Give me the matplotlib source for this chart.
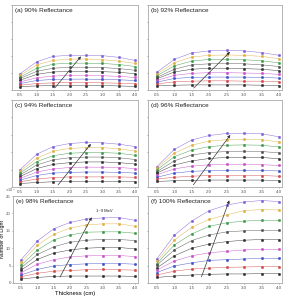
import numpy as np
import matplotlib
matplotlib.use('Agg')
import matplotlib.pyplot as plt

plt.rcParams['font.family'] = ['Liberation Sans', 'DejaVu Sans']

thickness = [0.5, 1.0, 1.5, 2.0, 2.5, 3.0, 3.5, 4.0]
titles = ["(a) 90% Reflectance", "(b) 92% Reflectance", "(c) 94% Reflectance",
          "(d) 96% Reflectance", "(e) 98% Reflectance", "(f) 100% Reflectance"]
# curves from 9 MeV (top) down to 1 MeV (bottom), values in 10^3
r90 = [[4.8, 8.3, 9.9, 10.2, 10.2, 10.1, 9.6, 8.7],
       [4.3, 7.4, 8.7, 9.1, 9.1, 8.9, 8.5, 7.8],
       [3.8, 6.4, 7.6, 7.9, 7.9, 7.8, 7.5, 6.9],
       [3.4, 5.5, 6.4, 6.7, 6.7, 6.6, 6.3, 5.8],
       [2.9, 4.6, 5.3, 5.5, 5.5, 5.4, 5.2, 4.8],
       [2.4, 3.6, 4.1, 4.3, 4.3, 4.2, 4.0, 3.7],
       [1.9, 2.8, 3.1, 3.2, 3.2, 3.1, 3.0, 2.8],
       [1.4, 1.9, 2.1, 2.2, 2.2, 2.1, 2.0, 1.9],
       [1.0, 1.2, 1.3, 1.3, 1.3, 1.3, 1.2, 1.05]]
r92 = [[5.2, 9.0, 10.9, 11.5, 11.7, 11.5, 11.0, 10.2],
       [4.7, 8.0, 9.7, 10.2, 10.3, 10.2, 9.9, 9.2],
       [4.2, 7.1, 8.5, 9.0, 9.0, 8.9, 8.6, 8.0],
       [3.7, 6.1, 7.4, 7.7, 7.8, 7.7, 7.4, 6.9],
       [3.3, 5.3, 6.1, 6.4, 6.4, 6.3, 6.1, 5.7],
       [2.8, 4.3, 4.9, 5.1, 5.1, 5.0, 4.9, 4.6],
       [2.3, 3.4, 3.7, 3.8, 3.8, 3.8, 3.7, 3.5],
       [1.8, 2.4, 2.6, 2.7, 2.7, 2.6, 2.6, 2.4],
       [1.2, 1.4, 1.5, 1.5, 1.5, 1.5, 1.4, 1.3]]
r94 = [[5.0, 9.4, 11.6, 12.5, 12.8, 12.7, 12.3, 11.6],
       [4.5, 8.3, 10.3, 11.1, 11.3, 11.3, 11.0, 10.3],
       [4.0, 7.3, 9.0, 9.7, 9.9, 9.9, 9.7, 9.1],
       [3.5, 6.3, 7.8, 8.4, 8.6, 8.6, 8.4, 7.9],
       [3.0, 5.3, 6.5, 7.0, 7.2, 7.2, 7.0, 6.6],
       [2.5, 4.3, 5.2, 5.6, 5.7, 5.7, 5.6, 5.3],
       [2.0, 3.3, 4.0, 4.2, 4.3, 4.3, 4.2, 4.0],
       [1.5, 2.3, 2.7, 2.9, 2.9, 2.9, 2.9, 2.8],
       [1.0, 1.3, 1.5, 1.6, 1.6, 1.6, 1.6, 1.5]]
r96 = [[5.8, 10.8, 13.5, 14.8, 15.4, 15.4, 15.3, 14.4],
       [5.4, 9.7, 12.0, 13.2, 13.6, 13.7, 13.6, 12.9],
       [4.9, 8.7, 10.6, 11.6, 12.0, 12.1, 12.0, 11.5],
       [4.4, 7.5, 9.2, 9.9, 10.2, 10.3, 10.2, 9.8],
       [4.0, 6.3, 7.5, 8.2, 8.5, 8.5, 8.5, 8.1],
       [3.5, 5.2, 6.0, 6.4, 6.5, 6.5, 6.4, 6.2],
       [2.8, 4.0, 4.5, 4.7, 4.8, 4.8, 4.8, 4.6],
       [2.3, 2.8, 3.1, 3.3, 3.3, 3.3, 3.3, 3.1],
       [1.6, 1.8, 1.9, 2.0, 2.0, 2.0, 2.0, 1.8]]
r98 = [[6.7, 12.1, 15.6, 17.4, 18.4, 18.7, 18.8, 18.0],
       [5.9, 10.9, 14.0, 15.8, 16.7, 17.0, 17.0, 16.3],
       [5.1, 9.5, 12.4, 13.8, 14.6, 14.7, 14.7, 14.3],
       [4.4, 8.2, 10.4, 11.7, 12.3, 12.5, 12.5, 12.2],
       [3.7, 6.8, 8.6, 9.5, 10.0, 10.2, 10.2, 9.8],
       [3.0, 5.4, 6.7, 7.5, 7.8, 7.9, 7.9, 7.6],
       [2.3, 3.9, 4.9, 5.3, 5.5, 5.6, 5.6, 5.4],
       [1.8, 2.8, 3.4, 3.6, 3.8, 3.9, 3.8, 3.7],
       [1.2, 1.6, 1.9, 2.0, 2.0, 2.0, 2.0, 1.9]]
r100 = [[6.9, 13.7, 17.8, 20.8, 22.4, 23.3, 23.7, 23.4],
        [6.2, 12.3, 16.0, 18.3, 19.6, 20.8, 21.1, 21.0],
        [5.6, 10.9, 14.1, 16.3, 17.3, 17.8, 18.0, 18.0],
        [5.1, 9.5, 12.2, 13.8, 14.7, 15.0, 15.1, 15.1],
        [4.3, 7.8, 10.0, 11.2, 11.9, 12.3, 12.5, 12.5],
        [3.7, 6.3, 7.8, 8.7, 9.1, 9.5, 9.7, 9.7],
        [3.0, 4.9, 5.8, 6.5, 6.7, 6.9, 7.1, 7.1],
        [2.3, 3.4, 4.0, 4.3, 4.5, 4.6, 4.7, 4.7],
        [1.6, 2.0, 2.3, 2.5, 2.6, 2.6, 2.7, 2.7]]
panels = [r90, r92, r94, r96, r98, r100]
# arrow start / end (thickness, value) per panel
arrow_from = [(1.5, 0.0), (1.5, 0.0), (1.6, 0.0), (1.5, 0.0), (1.65, 1.0), (1.75, 1.0)]
arrow_to = [(2.4, 10.5), (2.65, 11.8), (2.7, 13.0), (2.65, 15.6), (2.7, 19.6), (2.6, 24.5)]

colors = ['#8060d8', '#e0b040', '#3c9a48', '#505050', '#303030',
          '#c850c8', '#4050c8', '#d04848', '#303030']

fig = plt.figure(figsize=(2.84, 2.96), dpi=100)
W, H = 284.0, 296.0
boxes = [(12, 5, 138, 90), (148, 5, 282, 90),
         (12, 100, 138, 187), (148, 100, 282, 187),
         (13, 196, 138, 283), (148, 196, 282, 283)]

for i in range(6):
    l, t, r, b = boxes[i]
    ax = fig.add_axes([l / W, 1 - b / H, (r - l) / W, (b - t) / H])
    for k, vals in enumerate(panels[i]):
        ax.plot(thickness, vals, color=colors[k], lw=0.35, marker='s', ms=1.0,
                mec=colors[k], mfc=colors[k], alpha=0.9)
    ax.annotate('', xy=arrow_to[i], xytext=arrow_from[i],
                arrowprops=dict(arrowstyle='-|>', color='#333333', lw=0.5,
                                mutation_scale=4))
    ax.set_xlim(0.25, 4.08)
    ax.set_ylim(0, 25)
    ax.set_xticks(thickness)
    ax.set_xticklabels(['0.5', '1.0', '1.5', '2.0', '2.5', '3.0', '3.5', '4.0'])
    ax.set_yticks([0, 5, 10, 15, 20, 25])
    ax.tick_params(labelsize=3.2, length=1.0, width=0.4, pad=1.0, colors='#555555')
    ax.tick_params(axis='y', pad=0.6)
    if i != 4:
        ax.set_yticklabels([])
    for s in ax.spines.values():
        s.set_color('#aaaaaa')
        s.set_linewidth(0.6)
    ax.text(0.02, 0.97, titles[i], transform=ax.transAxes, fontsize=4.6,
            va='top', ha='left', color='#222222')
    if i == 4:
        ax.text(2.8, 20.3, '1~9 MeV', fontsize=3, color='#222222')
        ax.set_xlabel('Thickness (cm)', fontsize=4.2, labelpad=1.0)

fig.text(5 / W, 1 - 193.5 / H, r'$\times10^3$', fontsize=2.4, color='#555555',
         ha='left', va='bottom')
fig.text(2.7 / W, 1 - 239 / H, 'Number of Light', fontsize=3.8, rotation=90,
         ha='center', va='center')

fig.savefig('out.png', dpi=100)
